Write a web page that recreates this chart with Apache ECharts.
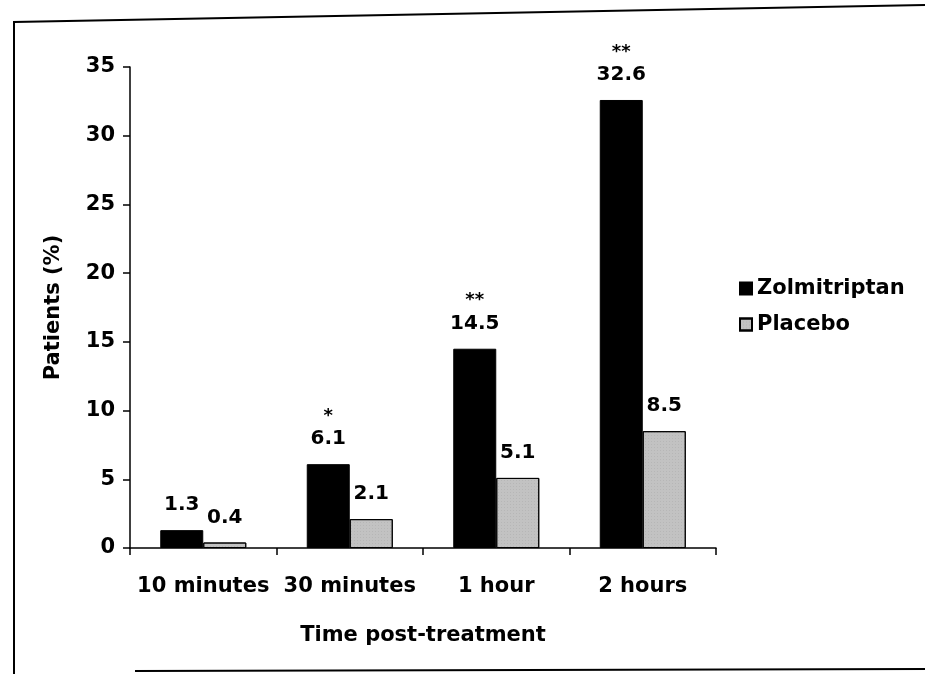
<!DOCTYPE html>
<html><head><meta charset="utf-8">
<script src="https://cdn.jsdelivr.net/npm/echarts@6/dist/echarts.min.js"></script>
<style>html,body{margin:0;padding:0;background:#fff}#c{width:925px;height:674px}</style>
</head><body><div id="c"></div>
<script>
const categories = ['10 minutes', '30 minutes', '1 hour', '2 hours'];
const zolmitriptan = [1.3, 6.1, 14.5, 32.6];
const placebo = [0.4, 2.1, 5.1, 8.5];
const zolSignificance = ['', '*', '**', '**'];
const yTicks = { min: 0, max: 35, interval: 5 };

const FONT = '"DejaVu Sans", "Liberation Sans", Arial, sans-serif';
const chart = echarts.init(document.getElementById('c'));

function labelFmt(sig) {
  return function (p) {
    const s = sig ? sig[p.dataIndex] : '';
    return s ? '{s|' + s + '}\n{v|' + p.value + '}' : '{v|' + p.value + '}';
  };
}
const rich = {
  v: { fontFamily: FONT, fontWeight: 'bold', fontSize: 20, color: '#000', lineHeight: 24 },
  s: { fontFamily: FONT, fontWeight: 'bold', fontSize: 18, color: '#000', lineHeight: 22 }
};

chart.setOption({
  animation: false,
  backgroundColor: '#fff',
  grid: { left: 130, top: 67, right: 209, bottom: 126 },
  legend: {
    orient: 'vertical', left: 734, top: 273, itemWidth: 12, itemHeight: 12, itemGap: 15,
    icon: 'rect',
    textStyle: { fontFamily: FONT, fontWeight: 'bold', fontSize: 21, color: '#000' },
    data: ['Zolmitriptan', 'Placebo']
  },
  xAxis: {
    type: 'category', data: categories,
    name: 'Time post-treatment', nameLocation: 'middle', nameGap: 77,
    nameTextStyle: { fontFamily: FONT, fontWeight: 'bold', fontSize: 21, color: '#000' },
    axisLine: { lineStyle: { color: '#000', width: 1.5 } },
    axisTick: { show: true, length: 7, interval: 0, lineStyle: { color: '#000', width: 1.5 } },
    axisLabel: { interval: 0, hideOverlap: false, fontFamily: FONT, fontWeight: 'bold', fontSize: 21, color: '#000', margin: 28 }
  },
  yAxis: {
    type: 'value', min: yTicks.min, max: yTicks.max, interval: yTicks.interval,
    name: 'Patients (%)', nameLocation: 'middle', nameGap: 66, nameRotate: 90,
    nameTextStyle: { fontFamily: FONT, fontWeight: 'bold', fontSize: 21, color: '#000' },
    splitLine: { show: false },
    axisLine: { show: true, lineStyle: { color: '#000', width: 1.5 } },
    axisTick: { show: true, length: 7, lineStyle: { color: '#000', width: 1.5 } },
    axisLabel: { fontFamily: FONT, fontWeight: 'bold', fontSize: 21, color: '#000', margin: 15 }
  },
  series: [
    {
      name: 'Zolmitriptan', type: 'bar', data: zolmitriptan, barWidth: 43, barGap: '0%',
      itemStyle: { color: '#000', borderColor: '#000', borderWidth: 1 },
      label: { show: true, position: 'top', distance: 13, formatter: labelFmt(zolSignificance), rich: rich, align: 'center' }
    },
    {
      name: 'Placebo', type: 'bar', data: placebo, barWidth: 43,
      itemStyle: { color: '#c2c2c2', borderColor: '#000', borderWidth: 1,
        decal: { symbol: 'rect', symbolSize: 0.5, dashArrayX: [1, 2], dashArrayY: [1, 2], color: 'rgba(60,60,60,0.35)' } },
      label: { show: true, position: 'top', distance: 13, formatter: labelFmt(null), rich: rich }
    }
  ],
  graphic: [
    { type: 'polyline', shape: { points: [[14, 674], [14, 22], [925, 5]] }, style: { stroke: '#000', lineWidth: 2, fill: null } },
    { type: 'polyline', shape: { points: [[135, 671], [925, 669]] }, style: { stroke: '#000', lineWidth: 2, fill: null } }
  ]
});
</script></body></html>
